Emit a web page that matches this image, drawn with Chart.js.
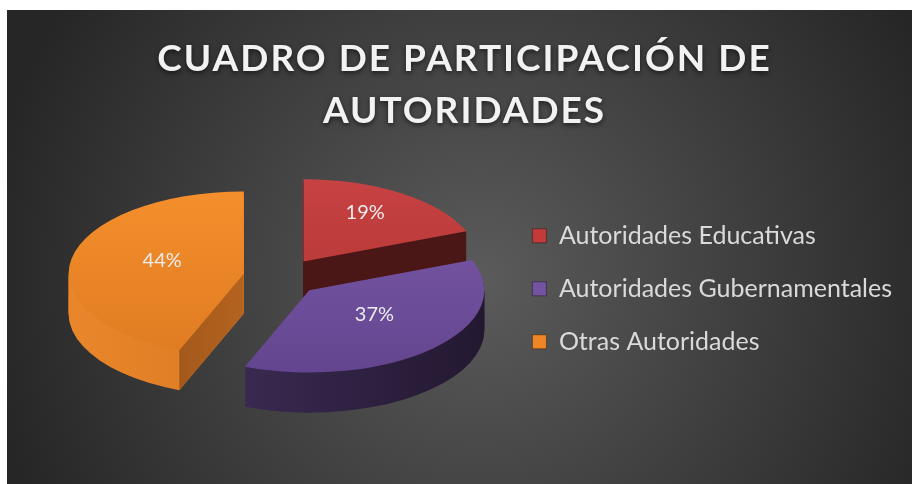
<!DOCTYPE html>
<html>
<head>
<meta charset="utf-8">
<script src="https://cdn.jsdelivr.net/npm/chart.js@4.4.1/dist/chart.umd.min.js"></script>
<style>
  html, body { margin: 0; background: #fff; }
  #wrap { position: absolute; left: 7px; top: 10px; width: 905px; height: 474px; }
</style>
</head>
<body>
<div id="wrap"><canvas id="c" width="905" height="474"></canvas></div>
<script>
// data
const TITLE = ["CUADRO DE PARTICIPACIÓN DE", "AUTORIDADES"];
const LABELS = ["Autoridades Educativas", "Autoridades Gubernamentales", "Otras Autoridades"];
const VALUES = [19, 37, 44];
const EXPLODE = [40, 40, 38];

// colours: top face (light, dark), side (left, right), cut face
const TOP_COL = [["#cb4444", "#ac3131"], ["#7d5bab", "#5f428b"], ["#f8922e", "#dc7820"]];
const SIDE_COL = [["#521919", "#431313"], ["#4a3668", "#22172f"], ["#ea862a", "#c66b1e"]];
const CUT_COL = ["#4a1616", "#3a2a55", "#a3591b"];
const LEGEND_COL = ["#c23a3a", "#7453a0", "#ee8526"];

const TILT = 0.47;   // vertical squash of the pie
const DEPTH = 40;    // thickness in px
const PIE_X = 274;   // where the pie centre sits on the canvas
const PIE_Y = 267;

const bgPlugin = {
  id: "bg",
  beforeDraw(chart) {
    const { ctx, width, height } = chart;
    const g = ctx.createRadialGradient(473, 270, 0, 473, 270, 500);
    g.addColorStop(0, "#5b5b5b");
    g.addColorStop(1, "#262626");
    ctx.save();
    ctx.fillStyle = g;
    ctx.fillRect(0, 0, width, height);
    ctx.restore();
  },
  afterInit(chart) {
    // spaced-out title with a soft shadow
    const tb = chart.titleBlock;
    const draw = tb.draw.bind(tb);
    tb.draw = function () {
      const ctx = chart.ctx;
      ctx.save();
      ctx.letterSpacing = "2px";
      ctx.shadowColor = "rgba(0,0,0,0.6)";
      ctx.shadowBlur = 5;
      ctx.shadowOffsetY = 2;
      draw();
      ctx.restore();
    };
  },
};

// move the pie and squash it into an ellipse
function view(ctx, arc) {
  ctx.translate(PIE_X, PIE_Y);
  ctx.scale(1, TILT);
  ctx.translate(-arc.x, -arc.y);
}
function shift(a, i) {
  const mid = (a.startAngle + a.endAngle) / 2;
  return { dx: Math.cos(mid) * EXPLODE[i], dy: Math.sin(mid) * EXPLODE[i] };
}
function toScreen(arc, x, y) {
  return { x: PIE_X + x - arc.x, y: PIE_Y + (y - arc.y) * TILT };
}

const tiltPlugin = {
  id: "tilt",
  beforeDatasetDraw(chart) {
    const ctx = chart.ctx;
    const arcs = chart.getDatasetMeta(0).data;
    const a0 = arcs[0];
    const R = a0.outerRadius;
    const sideFill = SIDE_COL.map((c) => {
      const g = ctx.createLinearGradient(a0.x - R - 40, 0, a0.x + R + 40, 0);
      g.addColorStop(0, c[0]);
      g.addColorStop(1, c[1]);
      return g;
    });
    // side wall: the wedge stacked downwards
    for (let d = DEPTH; d > 0; d--) {
      ctx.save();
      ctx.translate(0, d);
      view(ctx, a0);
      arcs.forEach((a, i) => {
        const s = shift(a, i);
        const x = a.x + s.dx, y = a.y + s.dy;
        ctx.beginPath();
        ctx.moveTo(x, y);
        ctx.arc(x, y, a.outerRadius, a.startAngle, a.endAngle);
        ctx.closePath();
        ctx.fillStyle = sideFill[i];
        ctx.fill();
      });
      ctx.restore();
    }
    // cut faces turned toward the viewer
    arcs.forEach((a, i) => {
      const s = shift(a, i);
      const cx = a.x + s.dx, cy = a.y + s.dy;
      [a.startAngle, a.endAngle].forEach((ang, k) => {
        const nAng = k === 0 ? ang - Math.PI / 2 : ang + Math.PI / 2;
        if (Math.sin(nAng) <= 0.05) return;
        const c = toScreen(a0, cx, cy);
        const p = toScreen(a0, cx + Math.cos(ang) * a.outerRadius, cy + Math.sin(ang) * a.outerRadius);
        const g = ctx.createLinearGradient(p.x, 0, c.x, 0);
        g.addColorStop(0, CUT_COL[i]);
        g.addColorStop(1, i === 2 ? "#b5631f" : CUT_COL[i]);
        ctx.beginPath();
        ctx.moveTo(c.x, c.y);
        ctx.lineTo(p.x, p.y);
        ctx.lineTo(p.x, p.y + DEPTH);
        ctx.lineTo(c.x, c.y + DEPTH);
        ctx.closePath();
        ctx.fillStyle = g;
        ctx.fill();
      });
    });
    // top faces, drawn by the arc elements themselves
    arcs.forEach((a, i) => {
      const s = shift(a, i);
      ctx.save();
      view(ctx, a0);
      ctx.translate(s.dx, s.dy);
      a.draw(ctx);
      ctx.restore();
    });
    return false;
  },
  afterDatasetsDraw(chart) {
    const ctx = chart.ctx;
    const arcs = chart.getDatasetMeta(0).data;
    const total = VALUES.reduce((s, v) => s + v, 0);
    ctx.save();
    ctx.font = "20px Lato";
    ctx.fillStyle = "#ececec";
    ctx.textAlign = "center";
    ctx.textBaseline = "middle";
    arcs.forEach((a, i) => {
      const mid = (a.startAngle + a.endAngle) / 2;
      const half = (a.endAngle - a.startAngle) / 2;
      // centroid of the wedge
      const r = EXPLODE[i] + (2 / 3) * a.outerRadius * Math.sin(half) / half;
      const p = toScreen(arcs[0], a.x + Math.cos(mid) * r, a.y + Math.sin(mid) * r);
      ctx.fillText(Math.round((VALUES[i] / total) * 100) + "%", p.x, p.y - 6);
    });
    ctx.restore();
  },
};

new Chart(document.getElementById("c"), {
  type: "pie",
  data: {
    labels: LABELS,
    datasets: [{
      data: VALUES,
      borderWidth: 0,
      clip: false,
      backgroundColor: (c) => {
        const area = c.chart.chartArea;
        const col = TOP_COL[c.dataIndex];
        if (!area) return col[0];
        const cy = (area.top + area.bottom) / 2;
        const g = c.chart.ctx.createLinearGradient(0, cy - 230, 0, cy + 230);
        g.addColorStop(0, col[0]);
        g.addColorStop(1, col[1]);
        return g;
      },
    }],
  },
  options: {
    responsive: false,
    animation: false,
    radius: 175,
    layout: { padding: { left: 20, right: 10, bottom: 53, top: 0 } },
    plugins: {
      title: {
        display: true,
        text: TITLE,
        color: "#f2f2f2",
        font: { family: "Lato", size: 37, weight: "bold", lineHeight: 1.4 },
        padding: { top: 23, bottom: 10 },
      },
      legend: {
        position: "right",
        fullSize: false,
        labels: {
          color: "#dadada",
          font: { family: "Lato", size: 25 },
          boxWidth: 14,
          boxHeight: 14,
          padding: 28,
          generateLabels(chart) {
            const items = Chart.overrides.pie.plugins.legend.labels.generateLabels(chart);
            items.forEach((it, i) => {
              it.fillStyle = LEGEND_COL[i];
              it.strokeStyle = "rgba(0,0,0,0.35)";
              it.lineWidth = 1;
            });
            return items;
          },
        },
      },
      tooltip: { enabled: false },
    },
  },
  plugins: [bgPlugin, tiltPlugin],
});
</script>
</body>
</html>
